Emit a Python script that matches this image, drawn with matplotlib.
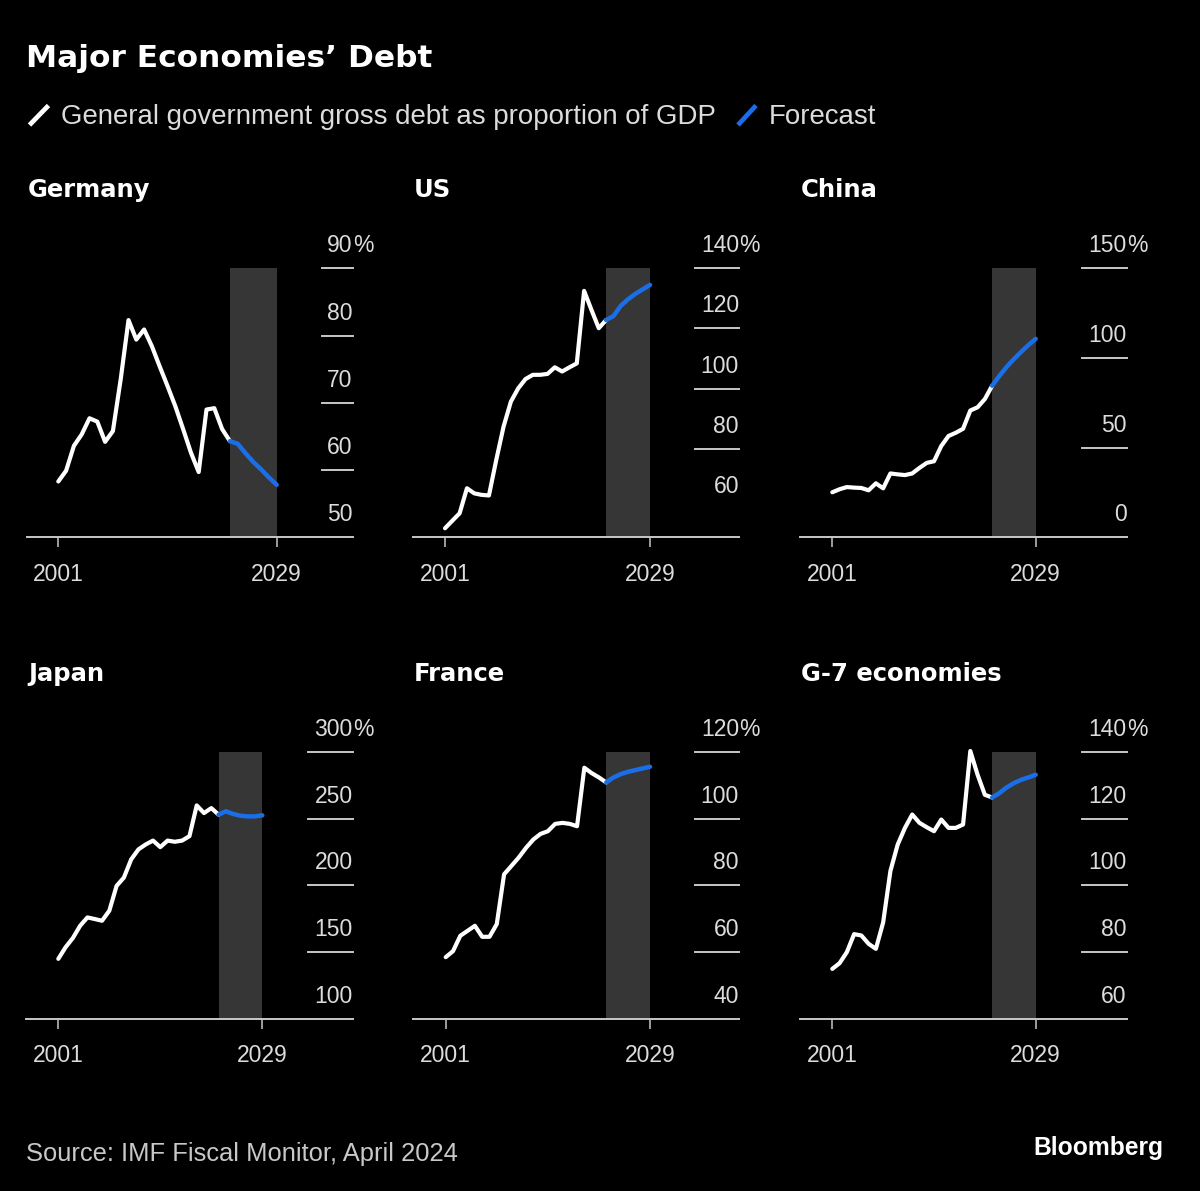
import matplotlib
matplotlib.use('Agg')
import matplotlib.pyplot as plt
from matplotlib.transforms import offset_copy
from matplotlib.lines import Line2D

plt.rcParams['font.family'] = ['Liberation Sans', 'DejaVu Sans']

# data (% of GDP, 2001-2029, forecast from 2023)
years = list(range(2001, 2030))
forecast_from = 2023

germany = [58.3, 59.9, 63.6, 65.3, 67.7, 67.2, 64.2, 65.8, 73.5, 82.3, 79.4, 80.9, 78.4, 75.4, 72.5,
           69.5, 66.1, 62.6, 59.7, 69.0, 69.2, 66.1, 64.3, 63.9, 62.5, 61.2, 60.1, 58.9, 57.8]
us = [53.6, 56.1, 58.6, 66.9, 65.2, 64.7, 64.5, 76.3, 87.4, 95.7, 100.1, 103.2, 104.6, 104.6, 104.9,
      107.1, 105.7, 107.1, 108.4, 132.5, 126.2, 120.1, 122.8, 124.1, 127.5, 129.7, 131.5, 133.0, 134.5]
china = [25.1, 26.8, 28.0, 27.7, 27.5, 26.2, 30.1, 27.3, 35.6, 35.1, 34.7, 35.6, 38.7, 41.5, 42.4,
         50.9, 56.5, 58.3, 60.5, 70.7, 72.5, 77.1, 84.5, 90.0, 95.0, 99.4, 103.4, 107.2, 110.7]
japan = [145.0, 153.7, 160.6, 169.8, 176.0, 174.8, 173.5, 181.0, 199.6, 205.8, 219.4, 226.9, 230.6, 233.5, 228.6,
         233.5, 232.6, 233.5, 236.8, 259.8, 254.1, 257.8, 252.9, 255.4, 253.4, 252.1, 251.6, 251.6, 252.4]
france = [58.5, 60.3, 64.9, 66.4, 67.9, 64.6, 64.6, 68.4, 83.3, 85.8, 88.3, 91.2, 93.7, 95.4, 96.2,
          98.4, 98.7, 98.4, 97.7, 115.2, 113.6, 112.3, 110.8, 112.3, 113.3, 114.0, 114.5, 115.0, 115.5]
g7 = [75.0, 76.7, 80.0, 85.4, 85.0, 82.5, 81.0, 88.9, 104.3, 112.2, 117.2, 121.2, 118.7, 117.4, 116.2,
      119.7, 117.2, 117.2, 118.2, 140.2, 133.1, 127.1, 126.3, 127.6, 129.3, 130.6, 131.6, 132.3, 133.1]

names = ['Germany', 'US', 'China', 'Japan', 'France', 'G-7 economies']
series = [germany, us, china, japan, france, g7]
yticks = [[50, 60, 70, 80, 90], [60, 80, 100, 120, 140], [0, 50, 100, 150],
          [100, 150, 200, 250, 300], [40, 60, 80, 100, 120], [60, 80, 100, 120, 140]]
ylims = [(50, 90), (50.6, 140), (0, 150), (100, 300), (40, 120), (60, 140)]

# panel layout in pixels: left, right, x of 2001, x of 2029, gridline start
cols = [(26.7, 352.7, 58.3, 276.7, 321.7), (413.3, 739, 445, 650, 695), (800, 1126.7, 832.3, 1035.7, 1082.3),
        (26, 352.7, 58.3, 262.3, 308.3), (413.3, 739, 445.7, 650, 695), (800, 1126.7, 832.3, 1035.7, 1082.3)]
rows = [(268.3, 537.3), (751.7, 1019)]
title_x = [28, 414, 801]

W, H = 1200, 1191
fig = plt.figure(figsize=(12, 11.91), dpi=100, facecolor='black')

WHITE = '#ffffff'
BLUE = '#1a6fe8'
GREY = '#c8c8c8'
LABEL = '#dcdcdc'

for i in range(6):
    L, R, p1, p2, gs = cols[i]
    top, bot = rows[i // 3]
    ax = fig.add_axes([L / W, 1 - bot / H, (R - L) / W, (bot - top) / H])
    ax.set_facecolor('black')
    ppy = (p2 - p1) / 28
    ax.set_xlim(2001 - (p1 - L) / ppy, 2029 + (R - p2) / ppy)
    ax.set_ylim(*ylims[i])

    ax.axvspan(2023, 2029, color='#363636', lw=0, zorder=0)

    vals = series[i]
    k = years.index(forecast_from)
    ax.plot(years[:k + 1], vals[:k + 1], color=WHITE, lw=3.0, solid_joinstyle='round',
            solid_capstyle='round', clip_on=False, zorder=3)
    ax.plot(years[k:], vals[k:], color=BLUE, lw=3.2, solid_joinstyle='round',
            solid_capstyle='round', clip_on=False, zorder=4)

    # short gridlines on the right with labels sitting above them
    gfrac = (gs - L) / (R - L)
    ytr = ax.get_yaxis_transform()
    lab_tr = offset_copy(ytr, fig=fig, y=16, units='dots')
    ticks = yticks[i]
    for j, t in enumerate(ticks):
        if j > 0:
            ax.plot([gfrac, 1], [t, t], transform=ytr, color=GREY, lw=1.4, clip_on=False)
        ax.text(1.0, t, str(t), transform=lab_tr, ha='right', va='baseline',
                fontsize=16.5, color=LABEL)
        if j == len(ticks) - 1:
            ax.text(1.0, t, '%', transform=lab_tr, ha='left', va='baseline',
                    fontsize=16.5, color=LABEL)

    for s in ['top', 'left', 'right']:
        ax.spines[s].set_visible(False)
    ax.spines['bottom'].set_color(GREY)
    ax.spines['bottom'].set_linewidth(1.4)
    ax.set_yticks([])
    ax.set_xticks([2001, 2029])
    ax.set_xticklabels(['2001', '2029'])
    ax.tick_params(axis='x', length=7.2, width=1.1, color=GREY, labelcolor=LABEL,
                   labelsize=16.5, pad=11)

    # panel title
    fig.text(title_x[i % 3] / W, 1 - (197.3 + (i // 3) * 484) / H, names[i],
             family='DejaVu Sans', weight='bold', fontsize=17.5, color=WHITE,
             ha='left', va='baseline')

# header
fig.text(26 / W, 1 - 66.7 / H, 'Major Economies’ Debt', family='DejaVu Sans', weight='bold',
         fontsize=22.5, color=WHITE, ha='left', va='baseline')
fig.lines.append(Line2D([29.5 / W, 48.5 / W], [1 - 125 / H, 1 - 105.5 / H], transform=fig.transFigure,
                        color=WHITE, lw=3.4, solid_capstyle='butt'))
fig.text(61 / W, 1 - 124.3 / H, 'General government gross debt as proportion of GDP',
         fontsize=19.9, color=LABEL, ha='left', va='baseline')
fig.lines.append(Line2D([738 / W, 756 / W], [1 - 125 / H, 1 - 105.5 / H], transform=fig.transFigure,
                        color=BLUE, lw=3.4, solid_capstyle='butt'))
fig.text(769 / W, 1 - 124.3 / H, 'Forecast', fontsize=19.9, color=LABEL, ha='left', va='baseline')

# footer
fig.text(26 / W, 1 - 1160.7 / H, 'Source: IMF Fiscal Monitor, April 2024', fontsize=18.4,
         color='#c8c8c8', ha='left', va='baseline')
fig.text(1163 / W, 1 - 1155 / H, 'Bloomberg', fontsize=17.7, weight='bold', color=WHITE,
         ha='right', va='baseline')

fig.savefig('out.png', dpi=100, facecolor='black')
